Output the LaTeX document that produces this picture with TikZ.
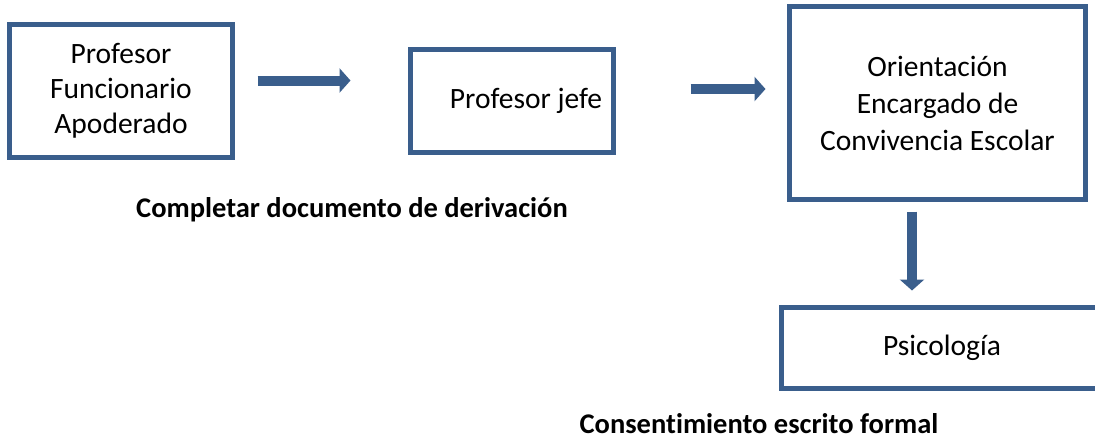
\documentclass[tikz,border=0pt]{standalone}
\usepackage{fontspec}
\setmainfont{Carlito}[Ligatures=NoCommon]
\usetikzlibrary{arrows.meta}
\definecolor{boxblue}{RGB}{58,94,140}

\begin{document}
\begin{tikzpicture}[x=1pt,y=-1pt,
  box/.style={draw=boxblue,line width=5pt,inner sep=0pt,align=center,font=\fontsize{29.5}{35}\selectfont},
  flow/.style={draw=boxblue,line width=10pt,-{Triangle[width=24pt,length=11pt]}},
  note/.style={font=\bfseries\fontsize{28.5}{32}\selectfont}]
\useasboundingbox (0,0) rectangle (1095,440);
\clip (0,0) rectangle (1095,440);
\node[box,minimum width=223pt,minimum height=133pt] (B1) at (121,91) {Profesor\\Funcionario\\Apoderado};
\node[box,minimum width=203pt,minimum height=103pt] (B2) at (512,101) {\hspace*{28pt}Profesor jefe};
\node[box,minimum width=296pt,minimum height=193pt,font=\fontsize{29.5}{37}\selectfont] (B3) at (937.5,103) {Orientación\\Encargado de\\Convivencia Escolar};
\node[box,minimum width=321pt,minimum height=81pt] (B4) at (942,347.5) {Psicología};
\node[note] (N1) at (352,210) {Completar documento de derivación};
\node[note] (N2) at (759,424) {Consentimiento escrito formal};
\draw[flow,shorten <=22.5pt,shorten >=57.5pt] (B1.east |- 0,80.5) -- (B2.west |- 0,80.5);
\draw[flow,shorten <=74.5pt,shorten >=21.5pt] (B2.east |- 0,89) -- (B3.west |- 0,89);
\draw[flow,shorten <=9.5pt,shorten >=14pt] (B3.south -| 912,0) -- (B4.north -| 912,0);
\end{tikzpicture}
\end{document}
